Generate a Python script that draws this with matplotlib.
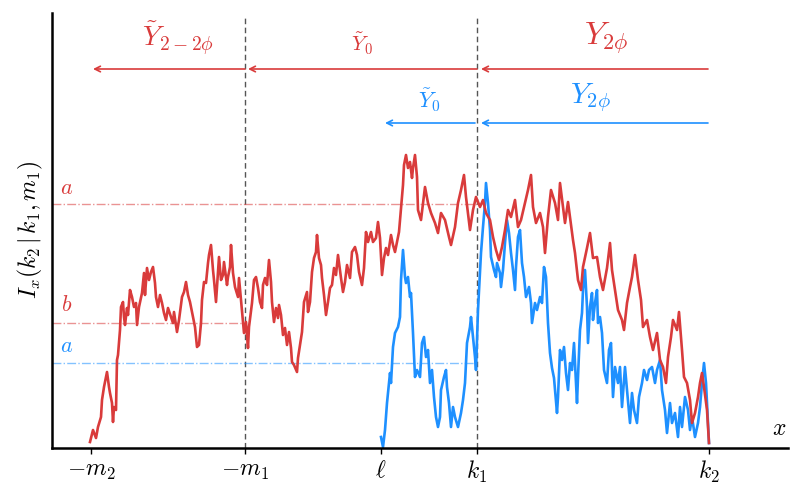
import matplotlib.pyplot as plt

plt.rcParams["mathtext.fontset"] = "cm"
plt.rcParams["font.family"] = "serif"
plt.rcParams["font.serif"] = ["DejaVu Serif"]

RED = "#d93b3b"
BLUE = "#1e90ff"

# positions along the x axis
tick_pos = [91, 245, 381, 477, 709]
tick_labels = [r"$-m_2$", r"$-m_1$", r"$\ell$", r"$k_1$", r"$k_2$"]
x_m1, x_ell, x_k1, x_k2 = 245, 381, 477, 709

# levels of the dash-dot thresholds
level_a_red = 244
level_b_red = 125
level_a_blue = 85

# red walk, started from -m2
red_x = [90, 93, 96, 98, 101, 102, 104, 106, 107, 109,
         110, 112, 113, 114, 116, 117, 118, 120, 121, 123,
         124, 125, 127, 128, 130, 132, 134, 136, 137, 139,
         142, 144, 145, 147, 149, 151, 153, 155, 156, 158,
         160, 162, 164, 166, 168, 171, 173, 174, 177, 179,
         182, 184, 186, 188, 190, 192, 195, 197, 199, 201,
         202, 204, 206, 208, 209, 211, 213, 214, 216, 218,
         219, 221, 223, 224, 227, 228, 230, 231, 233, 235,
         238, 239, 241, 242, 244, 246, 248, 249, 252, 254,
         256, 258, 260, 262, 263, 265, 267, 269, 271, 272,
         274, 276, 278, 279, 281, 283, 285, 287, 289, 291,
         292, 294, 297, 298, 300, 302, 304, 307, 308, 310,
         312, 314, 316, 317, 319, 321, 322, 324, 326, 328,
         330, 332, 334, 336, 338, 341, 343, 345, 347, 350,
         352, 355, 357, 359, 362, 364, 366, 368, 371, 373,
         376, 378, 380, 382, 384, 386, 388, 391, 393, 395,
         397, 399, 401, 403, 404, 406, 408, 410, 412, 413,
         415, 417, 418, 421, 425, 428, 431, 435, 438, 441,
         445, 449, 451, 455, 458, 461, 464, 466, 470, 473,
         476, 480, 483, 486, 490, 493, 496, 499, 502, 505,
         508, 511, 515, 518, 521, 525, 528, 531, 533, 536,
         540, 543, 545, 548, 551, 555, 558, 560, 565, 568,
         573, 575, 578, 581, 583, 587, 590, 593, 597, 600,
         603, 607, 610, 612, 615, 618, 622, 624, 627, 630,
         632, 635, 638, 641, 643, 647, 650, 653, 657, 660,
         663, 666, 668, 671, 673, 677, 679, 682, 684, 687,
         690, 692, 695, 698, 700, 702, 704, 707, 709]
red_y = [6, 18, 10, 21, 31, 48, 61, 71, 76, 61,
         55, 45, 26, 41, 38, 88, 93, 118, 141, 146,
         131, 123, 140, 133, 158, 151, 141, 145, 123, 141,
         155, 175, 153, 180, 168, 176, 181, 165, 151, 141,
         153, 145, 135, 128, 140, 131, 125, 136, 116, 128,
         151, 156, 166, 153, 146, 136, 121, 101, 103, 125,
         148, 166, 165, 185, 193, 203, 178, 168, 146, 176,
         191, 168, 173, 186, 163, 171, 181, 203, 175, 161,
         151, 170, 148, 138, 115, 126, 100, 121, 145, 168,
         171, 160, 146, 140, 163, 170, 163, 188, 166, 146,
         126, 140, 130, 143, 133, 113, 120, 103, 116, 100,
         86, 83, 76, 90, 103, 116, 146, 156, 136, 146,
         176, 190, 196, 213, 190, 183, 170, 153, 133, 146,
         160, 163, 180, 173, 193, 170, 156, 166, 183, 170,
         196, 201, 193, 176, 163, 180, 216, 206, 216, 206,
         210, 226, 210, 173, 190, 200, 193, 213, 203, 196,
         206, 216, 240, 263, 283, 293, 280, 286, 270, 280,
         293, 271, 238, 228, 261, 245, 235, 225, 215, 235,
         228, 211, 203, 221, 245, 258, 273, 251, 218, 238,
         251, 241, 248, 235, 228, 211, 198, 188, 201, 218,
         238, 231, 248, 221, 228, 245, 258, 273, 241, 225,
         235, 221, 195, 231, 258, 245, 228, 265, 225, 246,
         208, 195, 168, 158, 181, 200, 215, 190, 191, 171,
         158, 180, 205, 178, 158, 138, 128, 118, 145, 161,
         171, 193, 168, 148, 121, 128, 111, 98, 115, 88,
         81, 65, 91, 111, 128, 118, 136, 98, 71, 65,
         48, 25, 35, 51, 65, 75, 61, 38, 5]

# blue walk, started from ell
blue_x = [381, 383, 385, 387, 390, 391, 393, 395, 398, 400,
          401, 403, 405, 406, 408, 410, 411, 413, 415, 417,
          420, 422, 424, 426, 428, 430, 432, 434, 436, 438,
          440, 441, 444, 446, 447, 449, 451, 453, 455, 458,
          461, 463, 465, 467, 470, 471, 473, 475, 476, 478,
          480, 481, 483, 485, 486, 488, 490, 491, 494, 496,
          497, 500, 501, 503, 505, 507, 509, 511, 513, 515,
          516, 518, 520, 522, 524, 526, 529, 531, 532, 535,
          537, 540, 542, 544, 546, 547, 548, 550, 552, 554,
          557, 558, 560, 562, 564, 566, 568, 570, 572, 574,
          577, 578, 580, 582, 583, 585, 587, 588, 590, 592,
          593, 595, 597, 598, 600, 602, 604, 607, 609, 611,
          613, 615, 618, 620, 622, 625, 627, 630, 632, 634,
          637, 639, 642, 644, 647, 649, 652, 655, 657, 660,
          662, 665, 667, 670, 672, 675, 678, 680, 682, 685,
          688, 690, 692, 695, 698, 700, 702, 704, 706, 708, 709]
blue_y = [11, 1, 18, 45, 75, 65, 101, 115, 121, 131,
          168, 198, 171, 165, 171, 151, 155, 115, 71, 78,
          71, 105, 111, 91, 98, 65, 78, 51, 31, 21,
          31, 58, 71, 78, 61, 45, 21, 41, 31, 21,
          35, 48, 65, 105, 121, 131, 111, 91, 78, 138,
          175, 195, 221, 245, 265, 245, 218, 191, 178, 171,
          185, 175, 161, 178, 205, 228, 215, 195, 178, 158,
          181, 211, 218, 185, 171, 151, 161, 145, 125, 145,
          138, 151, 145, 181, 171, 148, 125, 95, 80, 70,
          35, 51, 98, 88, 101, 75, 58, 85, 78, 105,
          45, 71, 118, 135, 158, 178, 141, 105, 141, 155,
          128, 145, 158, 125, 131, 115, 78, 65, 98, 105,
          51, 81, 65, 81, 41, 81, 58, 25, 55, 38,
          25, 51, 65, 78, 68, 78, 81, 65, 78, 88,
          58, 38, 15, 45, 25, 35, 11, 41, 21, 51,
          38, 18, 31, 11, 25, 41, 65, 85, 65, 25, 5]

fig = plt.figure(figsize=(7.93, 4.90), dpi=100)
ax = fig.add_axes([52 / 793, 42 / 490, 736 / 793, 435 / 490])
ax.set_xlim(52, 788)
ax.set_ylim(0, 435)

for side in ["top", "right"]:
    ax.spines[side].set_visible(False)
ax.spines["left"].set_linewidth(1.8)
ax.spines["bottom"].set_linewidth(1.8)
ax.set_yticks([])
ax.set_xticks(tick_pos)
ax.set_xticklabels(tick_labels, fontsize=17)
ax.tick_params(axis="x", length=4, width=1, pad=4)

# vertical separators at -m1 and k1
for xv in [x_m1, x_k1]:
    ax.plot([xv, xv], [0, 433], color="#555555", lw=1.0, ls=(0, (4, 2.5)), zorder=1)

# threshold lines
ax.plot([52, x_k1], [level_a_red, level_a_red], color=RED, alpha=0.55, lw=1.0, ls="-.")
ax.plot([52, x_m1], [level_b_red, level_b_red], color=RED, alpha=0.55, lw=1.0, ls="-.")
ax.plot([52, x_k1], [level_a_blue, level_a_blue], color=BLUE, alpha=0.55, lw=1.0, ls="-.")
ax.text(67, 260, r"$a$", color=RED, fontsize=16, ha="center", va="center")
ax.text(67, 143, r"$b$", color=RED, fontsize=16, ha="center", va="center")
ax.text(67, 102, r"$a$", color=BLUE, fontsize=16, ha="center", va="center")

# the two walks
ax.plot(red_x, red_y, color=RED, lw=1.9, zorder=3, solid_joinstyle="round")
ax.plot(blue_x, blue_y, color=BLUE, lw=1.9, zorder=2, solid_joinstyle="round")

# arrows showing the direction of exploration
arrow_kw = dict(arrowstyle="->", lw=1.2, shrinkA=0, shrinkB=0, mutation_scale=10)
red_arrow_y = 379
blue_arrow_y = 325
for x_from, x_to in [(x_m1, 93), (x_k1, x_m1 + 3), (x_k2 - 1, x_k1 + 4)]:
    ax.annotate("", xy=(x_to, red_arrow_y), xytext=(x_from, red_arrow_y),
                arrowprops=dict(color=RED, **arrow_kw))
for x_from, x_to in [(x_k1 - 2, x_ell + 4), (x_k2 - 1, x_k1 + 4)]:
    ax.annotate("", xy=(x_to, blue_arrow_y), xytext=(x_from, blue_arrow_y),
                arrowprops=dict(color=BLUE, **arrow_kw))

ax.text(178, 410, r"$\tilde{Y}_{2-2\phi}$", color=RED, fontsize=20, ha="center", va="center")
ax.text(362, 404, r"$\tilde{Y}_0$", color=RED, fontsize=15, ha="center", va="center")
ax.text(606, 410, r"$Y_{2\phi}$", color=RED, fontsize=23, ha="center", va="center")
ax.text(430, 348, r"$\tilde{Y}_0$", color=BLUE, fontsize=16, ha="center", va="center")
ax.text(590, 350, r"$Y_{2\phi}$", color=BLUE, fontsize=21, ha="center", va="center")

ax.text(779, 20, r"$x$", fontsize=17, ha="center", va="center")
fig.text(30 / 793, 1 - 230 / 490, r"$I_x(k_2\,|\,k_1, m_1)$", fontsize=17,
         rotation=90, ha="center", va="center")

fig.savefig("out.png", dpi=100)
